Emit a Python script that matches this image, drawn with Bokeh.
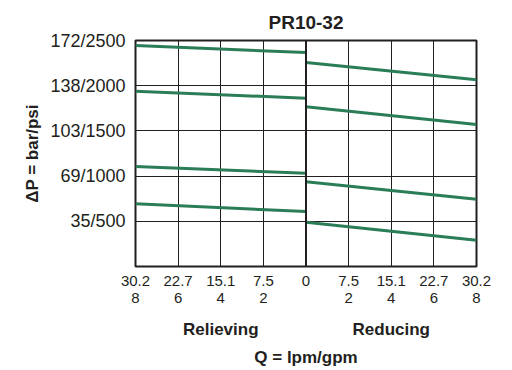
from bokeh.plotting import figure
from bokeh.models import FixedTicker, LinearAxis, Span, Range1d
from bokeh.embed import file_html
from bokeh.resources import INLINE

# ---- data ----
title_text = "PR10-32"
# flow in gpm; relieving side is drawn to the left of zero
relieving_gpm = [8, 0]
reducing_gpm = [0, 8]
relieving_psi = [
    [2444, 2367],
    [1939, 1861],
    [1106, 1032],
    [693, 608],
]
reducing_psi = [
    [2256, 2065],
    [1766, 1570],
    [937, 744],
    [490, 291],
]
x_ticks = [-8, -6, -4, -2, 0, 2, 4, 6, 8]
x_tick_labels = ["30.2\n8", "22.7\n6", "15.1\n4", "7.5\n2", "0",
                 "7.5\n2", "15.1\n4", "22.7\n6", "30.2\n8"]
y_ticks = [500, 1000, 1500, 2000, 2500]
y_tick_labels = ["35/500", "69/1000", "103/1500", "138/2000", "172/2500"]
side_ticks = [-4, 4]
side_labels = ["Relieving", "Reducing"]
split_at = 0

DARK = "#231f20"
GREEN = "#2a7d57"
FONT = "Liberation Sans"

p = figure(frame_width=341, frame_height=226, output_backend="svg", toolbar_location=None,
           x_range=Range1d(-8, 8), y_range=Range1d(0, 2500),
           min_border_left=135, min_border_right=25, min_border_top=40,
           min_border_bottom=0)
p.background_fill_color = "white"
p.border_fill_color = "white"
p.outline_line_color = DARK
p.outline_line_width = 2
p.outline_line_alpha = 1

p.title.text = title_text
p.title.align = "center"
p.title.text_font = FONT
p.title.text_font_size = "19px"
p.title.text_font_style = "bold"
p.title.text_color = DARK
p.title.standoff = 16

# y axis
ya = p.yaxis[0]
ya.ticker = FixedTicker(ticks=y_ticks)
ya.major_label_overrides = {t: l for t, l in zip(y_ticks, y_tick_labels)}
ya.major_label_text_font = FONT
ya.major_label_text_font_size = "18px"
ya.major_label_text_color = DARK
ya.major_label_standoff = 10
ya.major_tick_in = 0
ya.major_tick_out = 0
ya.minor_tick_line_color = None
ya.axis_line_color = None
ya.axis_label = "\u0394P = bar/psi"
ya.axis_label_text_font = FONT
ya.axis_label_text_font_size = "17px"
ya.axis_label_text_font_style = "bold"
ya.axis_label_text_color = DARK
ya.axis_label_standoff = 5

# x axis
xa = p.xaxis[0]
xa.ticker = FixedTicker(ticks=x_ticks)
xa.major_label_overrides = {t: l for t, l in zip(x_ticks, x_tick_labels)}
xa.major_label_text_font = FONT
xa.major_label_text_font_size = "15px"
xa.major_label_text_line_height = 1.0
xa.major_label_text_color = DARK
xa.major_label_standoff = 5
xa.major_tick_in = 0
xa.major_tick_out = 0
xa.minor_tick_line_color = None
xa.axis_line_color = None

side_axis = LinearAxis(ticker=FixedTicker(ticks=side_ticks),
                       major_label_overrides={t: l for t, l in zip(side_ticks, side_labels)},
                       axis_line_color=None, major_tick_line_color=None,
                       minor_tick_line_color=None,
                       major_label_text_font=FONT, major_label_text_font_size="17px",
                       major_label_text_font_style="bold",
                       major_label_text_color=DARK, major_label_standoff=5)
p.add_layout(side_axis, "below")

q_axis = LinearAxis(ticker=FixedTicker(ticks=[]), axis_line_color=None,
                    major_tick_line_color=None, minor_tick_line_color=None,
                    axis_label="Q = lpm/gpm", axis_label_text_font=FONT,
                    axis_label_text_font_size="17px", axis_label_text_font_style="bold",
                    axis_label_text_color=DARK, axis_label_standoff=6)
p.add_layout(q_axis, "below")

# grids
p.xgrid.ticker = FixedTicker(ticks=x_ticks)
p.ygrid.ticker = FixedTicker(ticks=y_ticks)
for g in (p.xgrid[0], p.ygrid[0]):
    g.grid_line_color = DARK
    g.grid_line_width = 1
    g.grid_line_alpha = 1

p.add_layout(Span(location=split_at, dimension="height", line_color=DARK, line_width=2))

# curves
for ys in relieving_psi:
    p.line([-g for g in relieving_gpm], ys, line_color=GREEN, line_width=3, line_cap="butt")
for ys in reducing_psi:
    p.line(reducing_gpm, ys, line_color=GREEN, line_width=3, line_cap="butt")

open("out.html", "w").write(file_html(p, INLINE))
